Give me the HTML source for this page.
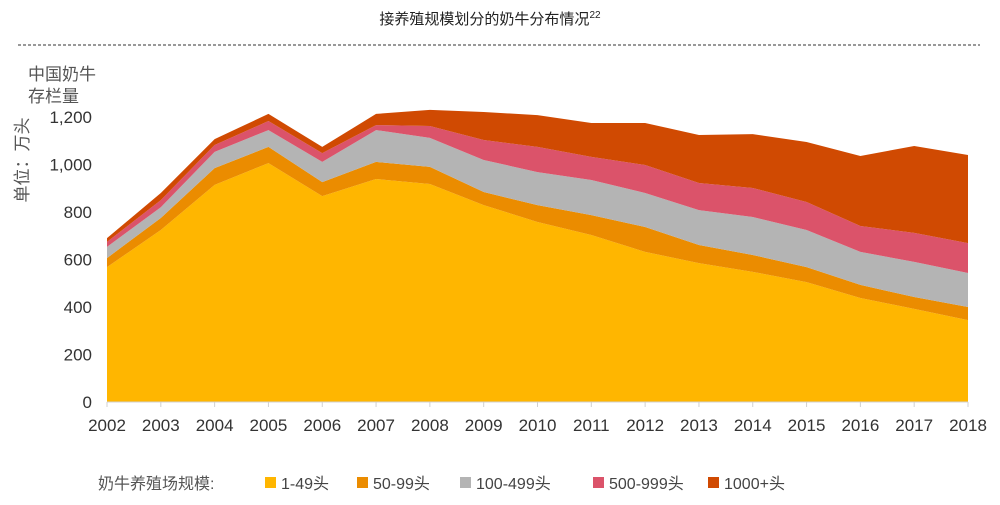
<!DOCTYPE html>
<html><head><meta charset="utf-8"><style>
body{margin:0;background:#fff;font-family:"Liberation Sans","Noto Sans CJK SC",sans-serif;}
svg text{font-family:"Liberation Sans","Noto Sans CJK SC",sans-serif;}
</style></head><body>
<svg id="chart" width="1000" height="500">
<text x="490" y="24" text-anchor="middle" font-size="15" fill="#222">接养殖规模划分的奶牛分布情况<tspan font-size="10" dy="-6">22</tspan></text>
<line x1="18" y1="45" x2="980" y2="45" stroke="#333" stroke-dasharray="3,2"/>
<text x="28" y="80" font-size="17" fill="#555">中国奶牛</text>
<text x="28" y="102" font-size="17" fill="#555">存栏量</text>
<text transform="translate(28,160) rotate(-90)" text-anchor="middle" font-size="17" fill="#555">单位：万头</text>
<g id="areas"></g><g id="axes"></g>
<g>
<text x="98" y="489" font-size="16" fill="#555">奶牛养殖场规模:</text>
</g>
<g id="legend"></g>
</svg>
<script>
const years=[2002,2003,2004,2005,2006,2007,2008,2009,2010,2011,2012,2013,2014,2015,2016,2017,2018];
const s1=[568,724,914,1006,867,939,918,829,758,703,632,585,548,505,438,392,345];
const s2=[38,51,71,68,59,72,72,55,71,84,105,76,71,63,55,50,55];
const s3=[47,45,68,71,85,134,122,135,139,148,143,147,160,156,139,148,143];
const s4=[21,30,29,38,37,21,50,84,106,97,118,114,122,118,109,122,126];
const s5=[16,30,25,30,26,47,68,118,134,143,177,202,227,253,295,366,371];
const seriesNames=["1-49头","50-99头","100-499头","500-999头","1000+头"];
const yTicks=[0,200,400,600,800,1000,1200];
const colors=["#FFB600","#EB8C00","#B4B4B4","#DB536A","#D04A02"];
const series=[s1,s2,s3,s4,s5];
const X=i=>107+i*(968-107)/(years.length-1);
const Y=v=>402-v*285/1200;
const NS="http://www.w3.org/2000/svg";
const areas=document.getElementById('areas');
let base=years.map(()=>0);
series.forEach((s,k)=>{
  const top=base.map((b,i)=>b+s[i]);
  let d="M"+years.map((_,i)=>X(i)+","+Y(top[i])).join("L");
  for(let i=years.length-1;i>=0;i--) d+="L"+X(i)+","+Y(base[i]);
  d+="Z";
  const p=document.createElementNS(NS,"path");
  p.setAttribute("d",d);p.setAttribute("fill",colors[k]);
  
  
  areas.appendChild(p);
  base=top;
});
const axes=document.getElementById('axes');
const ln=document.createElementNS(NS,"line");
ln.setAttribute("x1",107);ln.setAttribute("x2",968);ln.setAttribute("y1",402);ln.setAttribute("y2",402);ln.setAttribute("stroke","#d0d0d0");


axes.appendChild(ln);
years.forEach((y,i)=>{
  const t=document.createElementNS(NS,"line");
  t.setAttribute("x1",X(i));t.setAttribute("x2",X(i));t.setAttribute("y1",402);t.setAttribute("y2",407);t.setAttribute("stroke","#d0d0d0");
  
  
  axes.appendChild(t);
  const tx=document.createElementNS(NS,"text");
  tx.setAttribute("x",X(i));tx.setAttribute("y",431);tx.setAttribute("text-anchor","middle");tx.setAttribute("font-size","17");tx.setAttribute("fill","#333");
  tx.textContent=y;
  
  
  axes.appendChild(tx);
});
yTicks.forEach(v=>{
  const tx=document.createElementNS(NS,"text");
  tx.setAttribute("x",92);tx.setAttribute("y",Y(v)+6);tx.setAttribute("text-anchor","end");tx.setAttribute("font-size","17");tx.setAttribute("fill","#333");
  tx.textContent=v.toLocaleString('en-US');
  
  
  axes.appendChild(tx);
});
const legend=document.getElementById('legend');
const lx=[265,357,460,593,708];
seriesNames.forEach((n,k)=>{
  const r=document.createElementNS(NS,"rect");
  r.setAttribute("x",lx[k]);r.setAttribute("y",477);r.setAttribute("width",11);r.setAttribute("height",11);r.setAttribute("fill",colors[k]);
  
  
  legend.appendChild(r);
  const t=document.createElementNS(NS,"text");
  t.setAttribute("x",lx[k]+16);t.setAttribute("y",489);t.setAttribute("font-size","16");t.setAttribute("fill","#444");
  t.textContent=n;
  
  
  legend.appendChild(t);
});
</script>
</body></html>
